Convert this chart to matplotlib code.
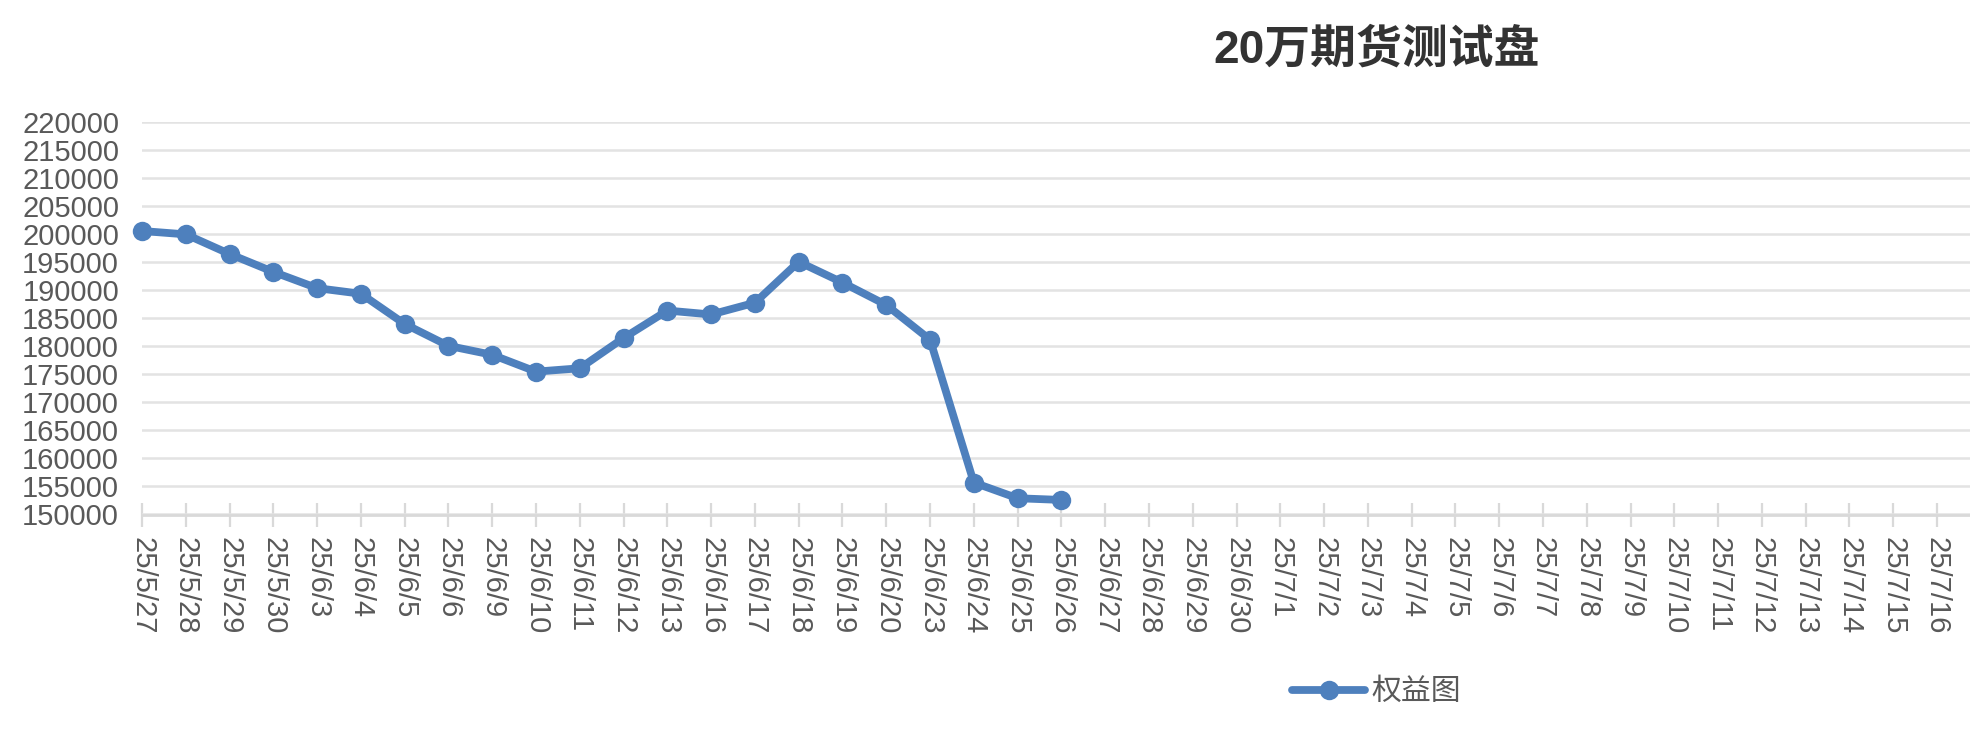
import matplotlib
matplotlib.use("Agg")
import matplotlib.pyplot as plt
from matplotlib.ticker import MultipleLocator

plt.rcParams['font.family'] = ['Liberation Sans', 'Noto Sans CJK SC', 'DejaVu Sans']

title = "20万期货测试盘"
series_name = "权益图"
dates = ["25/5/27", "25/5/28", "25/5/29", "25/5/30", "25/6/3", "25/6/4", "25/6/5",
         "25/6/6", "25/6/9", "25/6/10", "25/6/11", "25/6/12", "25/6/13", "25/6/16",
         "25/6/17", "25/6/18", "25/6/19", "25/6/20", "25/6/23", "25/6/24", "25/6/25",
         "25/6/26", "25/6/27", "25/6/28", "25/6/29", "25/6/30", "25/7/1", "25/7/2",
         "25/7/3", "25/7/4", "25/7/5", "25/7/6", "25/7/7", "25/7/8", "25/7/9",
         "25/7/10", "25/7/11", "25/7/12", "25/7/13", "25/7/14", "25/7/15", "25/7/16",
         "25/7/17"]
equity = [200600, 200000, 196500, 193300, 190400, 189400, 184000, 180100, 178500,
          175500, 176100, 181500, 186400, 185700, 187800, 195100, 191400, 187400,
          181200, 155700, 152900, 152600]
y_min, y_max, y_step = 150000, 220000, 5000

W, H = 1970, 730
fig = plt.figure(figsize=(W / 100, H / 100), dpi=100)

left_px, right_px = 142, 2000
top_px, bottom_px = 122.3, 514.5
step_px = (1937 - 142) / 41
ax = fig.add_axes([left_px / W, 1 - bottom_px / H,
                   (right_px - left_px) / W, (bottom_px - top_px) / H])

x = list(range(len(equity)))
blue = '#4e80bd'
ax.plot(x, equity, color=blue, lw=5.6, marker='o', markersize=14,
        markeredgewidth=0, label=series_name, clip_on=False, zorder=3,
        solid_capstyle='round')

ax.set_xlim(0, (right_px - left_px) / step_px)
ax.set_ylim(y_min, y_max)
ax.yaxis.set_major_locator(MultipleLocator(y_step))
ax.set_xticks(range(len(dates)))
ax.set_xticklabels(dates, rotation=270, va='top', ha='center')

ax.grid(axis='y', color='#e3e3e3', lw=1.8, zorder=0)
ax.grid(axis='x', visible=False)
for s in ['top', 'right', 'left']:
    ax.spines[s].set_visible(False)
ax.spines['bottom'].set_color('#d9d9d9')
ax.spines['bottom'].set_linewidth(2.0)

ax.tick_params(axis='y', length=0, pad=16.5, labelsize=21, labelcolor='#595959')
ax.tick_params(axis='x', direction='inout', length=17, width=1.6, color='#d9d9d9',
               pad=8, labelsize=21, labelcolor='#595959')
ax.yaxis.set_major_formatter(matplotlib.ticker.FuncFormatter(lambda v, p: f"{int(v)}"))

fig.text(1377 / W, 1 - 50.7 / H, title, ha='center', va='center',
         fontsize=33, fontweight='bold', color='#333333')

fig.legend(loc='center left', bbox_to_anchor=(1292 / W, 1 - 692 / H),
           frameon=False, fontsize=21.5, handlelength=2.45, handletextpad=0.2,
           borderpad=0, borderaxespad=0, labelcolor='#595959', numpoints=1)

fig.savefig('out.png', dpi=100)
